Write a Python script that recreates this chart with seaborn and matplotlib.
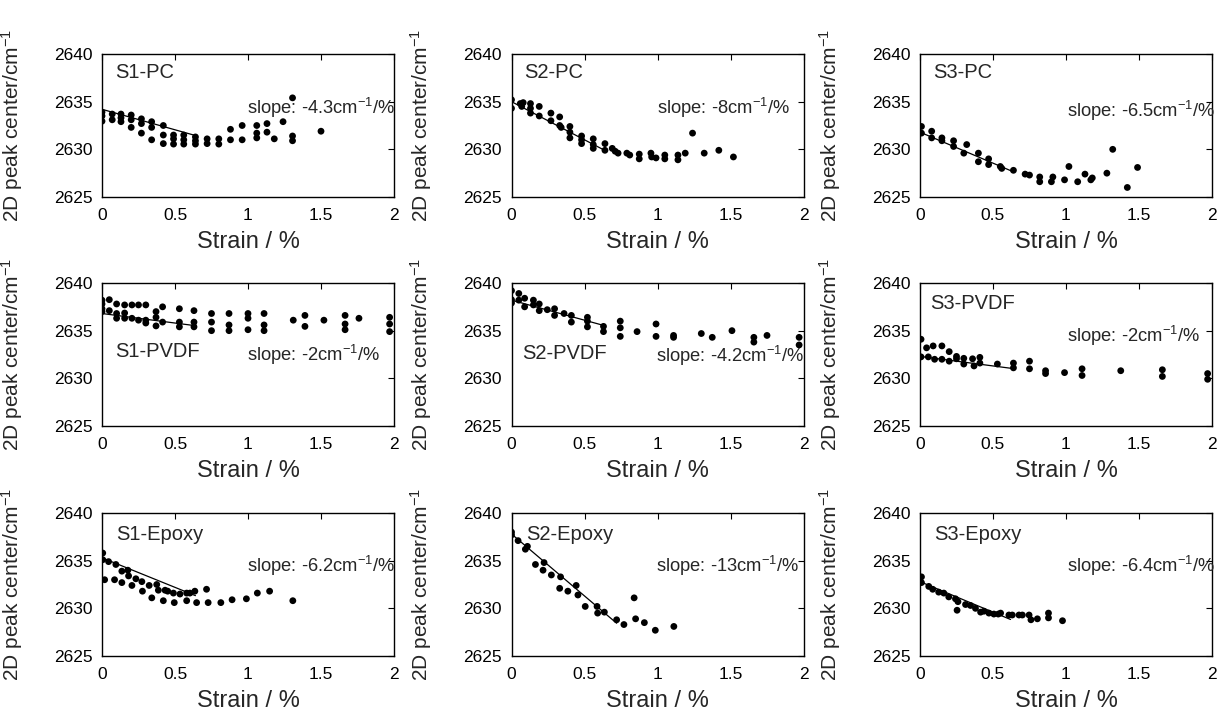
import matplotlib
matplotlib.use("Agg")
import matplotlib.pyplot as plt
import seaborn as sns
import pandas as pd

# ---------------- data ----------------
panel_names = ["S1-PC", "S2-PC", "S3-PC",
               "S1-PVDF", "S2-PVDF", "S3-PVDF",
               "S1-Epoxy", "S2-Epoxy", "S3-Epoxy"]
slope_labels = ["-4.3", "-8", "-6.5", "-2", "-4.2", "-2", "-6.2", "-13", "-6.4"]

s1pc_x = [0, 0, 0, 0.07, 0.07, 0.13, 0.13, 0.13, 0.2, 0.2, 0.2, 0.27, 0.27, 0.27,
          0.34, 0.34, 0.34, 0.42, 0.42, 0.42, 0.49, 0.49, 0.49, 0.56, 0.56, 0.56,
          0.64, 0.64, 0.64, 0.72, 0.72, 0.80, 0.80, 0.88, 0.88, 0.96, 0.96,
          1.06, 1.06, 1.06, 1.13, 1.13, 1.18, 1.24, 1.305, 1.305, 1.305, 1.50]
s1pc_y = [2633.9, 2633.5, 2632.95, 2633.7, 2633.1, 2633.7, 2633.3, 2632.9,
          2633.6, 2633.1, 2632.3, 2633.2, 2632.7, 2631.7, 2632.9, 2632.3, 2631.0,
          2632.5, 2631.5, 2630.6, 2631.5, 2631.1, 2630.55, 2631.5, 2631.0, 2630.55,
          2631.3, 2630.9, 2630.55, 2631.1, 2630.6, 2631.1, 2630.55, 2632.1, 2631.0,
          2632.5, 2631.0, 2632.5, 2631.7, 2631.2, 2632.7, 2631.8, 2631.1, 2632.9,
          2635.4, 2631.4, 2630.9, 2631.9]

s2pc_x = [0, 0, 0.06, 0.08, 0.07, 0.13, 0.13, 0.13, 0.19, 0.19, 0.27, 0.27, 0.33,
          0.33, 0.34, 0.4, 0.4, 0.4, 0.48, 0.48, 0.48, 0.56, 0.56, 0.56, 0.64, 0.64,
          0.69, 0.71, 0.73, 0.79, 0.81, 0.875, 0.875, 0.955, 0.96, 0.99, 1.05, 1.05,
          1.14, 1.14, 1.19, 1.24, 1.32, 1.42, 1.52]
s2pc_y = [2635.2, 2634.3, 2634.8, 2634.9, 2634.5, 2634.8, 2634.3, 2633.8, 2634.5,
          2633.5, 2633.8, 2633.0, 2633.4, 2632.5, 2632.3, 2632.4, 2631.8, 2631.2,
          2631.4, 2631.0, 2630.6, 2631.1, 2630.5, 2630.1, 2630.6, 2629.9, 2630.1,
          2629.8, 2629.6, 2629.6, 2629.4, 2629.5, 2629.0, 2629.6, 2629.2, 2629.1,
          2629.4, 2629.0, 2629.4, 2628.9, 2629.6, 2631.7, 2629.6, 2629.9, 2629.2]

s3pc_x = [0.01, 0.01, 0.08, 0.08, 0.15, 0.15, 0.23, 0.23, 0.3, 0.32, 0.4, 0.4, 0.47,
          0.47, 0.55, 0.56, 0.64, 0.72, 0.75, 0.82, 0.82, 0.9, 0.91, 0.99, 1.02,
          1.08, 1.13, 1.17, 1.18, 1.28, 1.32, 1.42, 1.49]
s3pc_y = [2632.4, 2631.7, 2631.9, 2631.2, 2631.2, 2630.9, 2630.9, 2630.3, 2629.6,
          2630.5, 2629.6, 2628.7, 2629.0, 2628.4, 2628.2, 2628.0, 2627.8, 2627.4,
          2627.3, 2627.1, 2626.6, 2626.6, 2627.1, 2626.8, 2628.2, 2626.6, 2627.4,
          2626.8, 2627.0, 2627.5, 2630.0, 2626.0, 2628.1]

s1pvdf_x = [0, 0, 0, 0, 0.05, 0.05, 0.1, 0.1, 0.1, 0.155, 0.155, 0.155, 0.205, 0.205,
            0.25, 0.25, 0.3, 0.3, 0.3, 0.37, 0.37, 0.37, 0.415, 0.415, 0.53, 0.53,
            0.53, 0.63, 0.63, 0.63, 0.75, 0.75, 0.75, 0.87, 0.87, 0.87, 1.0, 1.0, 1.0,
            1.11, 1.11, 1.11, 1.31, 1.39, 1.39, 1.52, 1.665, 1.665, 1.665, 1.76,
            1.97, 1.97, 1.97]
s1pvdf_y = [2638.2, 2637.8, 2637.3, 2637.0, 2638.25, 2637.1, 2637.8, 2636.8, 2636.3,
            2637.7, 2636.85, 2636.3, 2637.7, 2636.3, 2637.7, 2636.1, 2637.7, 2636.1,
            2635.8, 2637.0, 2636.4, 2635.5, 2637.5, 2635.9, 2637.3, 2635.9, 2635.4,
            2637.1, 2635.9, 2635.4, 2636.8, 2635.9, 2635.0, 2636.8, 2635.6, 2635.0,
            2636.8, 2636.3, 2635.1, 2636.8, 2635.6, 2635.0, 2636.1, 2636.6, 2635.45,
            2636.1, 2636.6, 2635.7, 2635.1, 2636.3, 2636.4, 2635.7, 2634.9]

s2pvdf_x = [0, 0, 0, 0.05, 0.05, 0.09, 0.09, 0.15, 0.15, 0.19, 0.19, 0.245, 0.295,
            0.295, 0.36, 0.41, 0.41, 0.52, 0.52, 0.52, 0.63, 0.63, 0.745, 0.745,
            0.745, 0.86, 0.99, 0.99, 1.11, 1.11, 1.3, 1.375, 1.51, 1.66, 1.66, 1.75,
            1.97, 1.97]
s2pvdf_y = [2639.2, 2638.25, 2637.9, 2638.9, 2638.2, 2638.4, 2637.5, 2638.2, 2637.7,
            2637.8, 2637.1, 2637.2, 2637.3, 2636.6, 2636.8, 2636.6, 2635.9, 2636.4,
            2636.0, 2635.4, 2635.45, 2634.9, 2636.0, 2635.3, 2634.4, 2634.9, 2635.7,
            2634.4, 2634.5, 2634.3, 2634.7, 2634.3, 2635.0, 2634.3, 2633.8, 2634.5,
            2634.3, 2633.5]

s3pvdf_x = [0.007, 0.007, 0.045, 0.057, 0.09, 0.1, 0.15, 0.15, 0.2, 0.2, 0.25, 0.25,
            0.3, 0.3, 0.36, 0.37, 0.41, 0.41, 0.53, 0.64, 0.64, 0.75, 0.75, 0.86,
            0.86, 0.99, 1.11, 1.11, 1.375, 1.66, 1.66, 1.97, 1.97]
s3pvdf_y = [2634.1, 2632.25, 2633.2, 2632.25, 2633.4, 2632.0, 2633.4, 2632.0, 2632.8,
            2631.8, 2632.3, 2632.05, 2632.1, 2631.5, 2632.05, 2631.3, 2632.2, 2631.6,
            2631.5, 2631.6, 2631.1, 2631.8, 2631.0, 2630.8, 2630.5, 2630.6, 2631.0,
            2630.3, 2630.8, 2630.9, 2630.2, 2630.5, 2629.9]

s1ep_x = [0.005, 0.005, 0.018, 0.045, 0.086, 0.095, 0.136, 0.136, 0.177, 0.182, 0.205,
          0.232, 0.273, 0.277, 0.323, 0.341, 0.375, 0.386, 0.42, 0.432, 0.45, 0.489,
          0.495, 0.534, 0.58, 0.58, 0.602, 0.636, 0.648, 0.716, 0.727, 0.814, 0.891,
          0.989, 1.064, 1.148, 1.307]
s1ep_y = [2635.8, 2635.1, 2633.0, 2634.9, 2633.0, 2634.6, 2633.9, 2632.7, 2634.0,
          2633.4, 2632.4, 2633.1, 2632.8, 2631.8, 2632.4, 2631.1, 2632.5, 2631.9,
          2630.8, 2631.9, 2631.8, 2631.6, 2630.6, 2631.5, 2630.8, 2631.6, 2631.6,
          2631.8, 2630.6, 2632.0, 2630.6, 2630.6, 2630.9, 2631.0, 2631.6, 2631.8,
          2630.8]

s2ep_x = [0, 0, 0.045, 0.095, 0.109, 0.164, 0.216, 0.223, 0.273, 0.33, 0.336, 0.386,
          0.443, 0.455, 0.505, 0.586, 0.59, 0.636, 0.72, 0.77, 0.84, 0.85, 0.91,
          0.985, 1.112]
s2ep_y = [2638.0, 2637.7, 2637.1, 2636.2, 2636.5, 2634.6, 2634.0, 2634.8, 2633.5,
          2632.1, 2633.3, 2631.8, 2632.4, 2631.4, 2630.2, 2630.2, 2629.5, 2629.6,
          2628.8, 2628.3, 2631.1, 2628.9, 2628.5, 2627.7, 2628.1]

s3ep_x = [0.01, 0.01, 0.06, 0.087, 0.128, 0.163, 0.197, 0.243, 0.26, 0.254, 0.312,
          0.346, 0.38, 0.415, 0.438, 0.472, 0.506, 0.536, 0.552, 0.609, 0.632, 0.678,
          0.701, 0.747, 0.76, 0.804, 0.88, 0.88, 0.976]
s3ep_y = [2633.3, 2632.7, 2632.3, 2632.0, 2631.7, 2631.6, 2631.2, 2631.0, 2630.7,
          2629.8, 2630.4, 2630.3, 2630.0, 2629.6, 2629.7, 2629.5, 2629.4, 2629.4,
          2629.5, 2629.3, 2629.3, 2629.3, 2629.3, 2629.3, 2628.8, 2628.9, 2629.5,
          2629.0, 2628.7]

fit_intercepts = [2634.2, 2635.0, 2631.8, 2636.8, 2638.2, 2632.3, 2635.3, 2637.8, 2632.8]
fit_slopes = [-4.3, -8, -6.5, -2, -4.2, -2, -6.2, -13, -6.4]
fit_x_end = [0.63, 0.63, 0.64, 0.63, 0.63, 0.64, 0.64, 0.72, 0.62]

xs = [s1pc_x, s2pc_x, s3pc_x, s1pvdf_x, s2pvdf_x, s3pvdf_x, s1ep_x, s2ep_x, s3ep_x]
ys = [s1pc_y, s2pc_y, s3pc_y, s1pvdf_y, s2pvdf_y, s3pvdf_y, s1ep_y, s2ep_y, s3ep_y]

x_ticks = [0, 0.5, 1, 1.5, 2]
x_tick_labels = ["0", "0.5", "1", "1.5", "2"]
y_ticks = [2625, 2630, 2635, 2640]

# label positions (axes fraction)
name_pos = [(0.045, 0.87), (0.045, 0.87), (0.045, 0.87),
            (0.045, 0.52), (0.035, 0.51), (0.035, 0.86),
            (0.05, 0.85), (0.05, 0.85), (0.047, 0.85)]
slope_pos = [(0.495, 0.62), (0.498, 0.62), (0.505, 0.60),
             (0.495, 0.50), (0.495, 0.49), (0.505, 0.63),
             (0.495, 0.63), (0.495, 0.63), (0.505, 0.63)]

# ---------------- style ----------------
sns.set_style("white")
plt.rcParams["font.family"] = ["Liberation Sans", "DejaVu Sans"]
plt.rcParams["mathtext.fontset"] = "custom"
plt.rcParams["mathtext.rm"] = "Liberation Sans"
plt.rcParams["mathtext.it"] = "Liberation Sans:italic"
plt.rcParams["mathtext.bf"] = "Liberation Sans:bold"
plt.rcParams["axes.unicode_minus"] = True

fig = plt.figure(figsize=(12.2, 7.15), dpi=100)

W, H = 1220.0, 715.0
col_left = [102, 511.5, 920]
row_top = [54, 283, 513]
ax_w, ax_h = 292, 143

for i in range(9):
    r, c = divmod(i, 3)
    ax = fig.add_axes([col_left[c] / W, 1 - (row_top[r] + ax_h) / H, ax_w / W, ax_h / H])
    df = pd.DataFrame({"strain": xs[i], "peak": ys[i]})
    sns.scatterplot(data=df, x="strain", y="peak", color="black", s=24,
                    edgecolor="none", linewidth=0, ax=ax, zorder=3)
    fx = [0, fit_x_end[i]]
    fy = [fit_intercepts[i] + fit_slopes[i] * v for v in fx]
    sns.lineplot(x=fx, y=fy, color="black", linewidth=0.9, ax=ax, zorder=2)

    ax.set_xlim(0, 2)
    ax.set_ylim(2625, 2640)
    ax.set_xticks(x_ticks)
    ax.set_xticklabels(x_tick_labels)
    ax.set_yticks(y_ticks)
    ax.tick_params(direction="in", length=4, width=0.8, top=True, right=True,
                   labelsize=12.5, colors="black")
    ax.tick_params(axis="x", pad=8)
    ax.tick_params(axis="y", pad=7)
    for sp in ax.spines.values():
        sp.set_visible(True)
        sp.set_color("black")
        sp.set_linewidth(1.0)
    ax.set_xlabel("Strain / %", fontsize=17)
    ax.set_ylabel("2D peak center/cm$^{-1}$", fontsize=15)
    ax.xaxis.set_label_coords(0.5, -0.235)
    ax.yaxis.set_label_coords(-0.265, 0.5)

    nx, ny = name_pos[i]
    ax.text(nx, ny, panel_names[i], transform=ax.transAxes, fontsize=14.5,
            ha="left", va="center", zorder=4)
    sx, sy = slope_pos[i]
    ax.text(sx, sy, "slope: " + slope_labels[i] + "cm$^{-1}$/%",
            transform=ax.transAxes, fontsize=13.2, ha="left", va="center",
            zorder=4, clip_on=False)

fig.savefig("out.png", dpi=100)
